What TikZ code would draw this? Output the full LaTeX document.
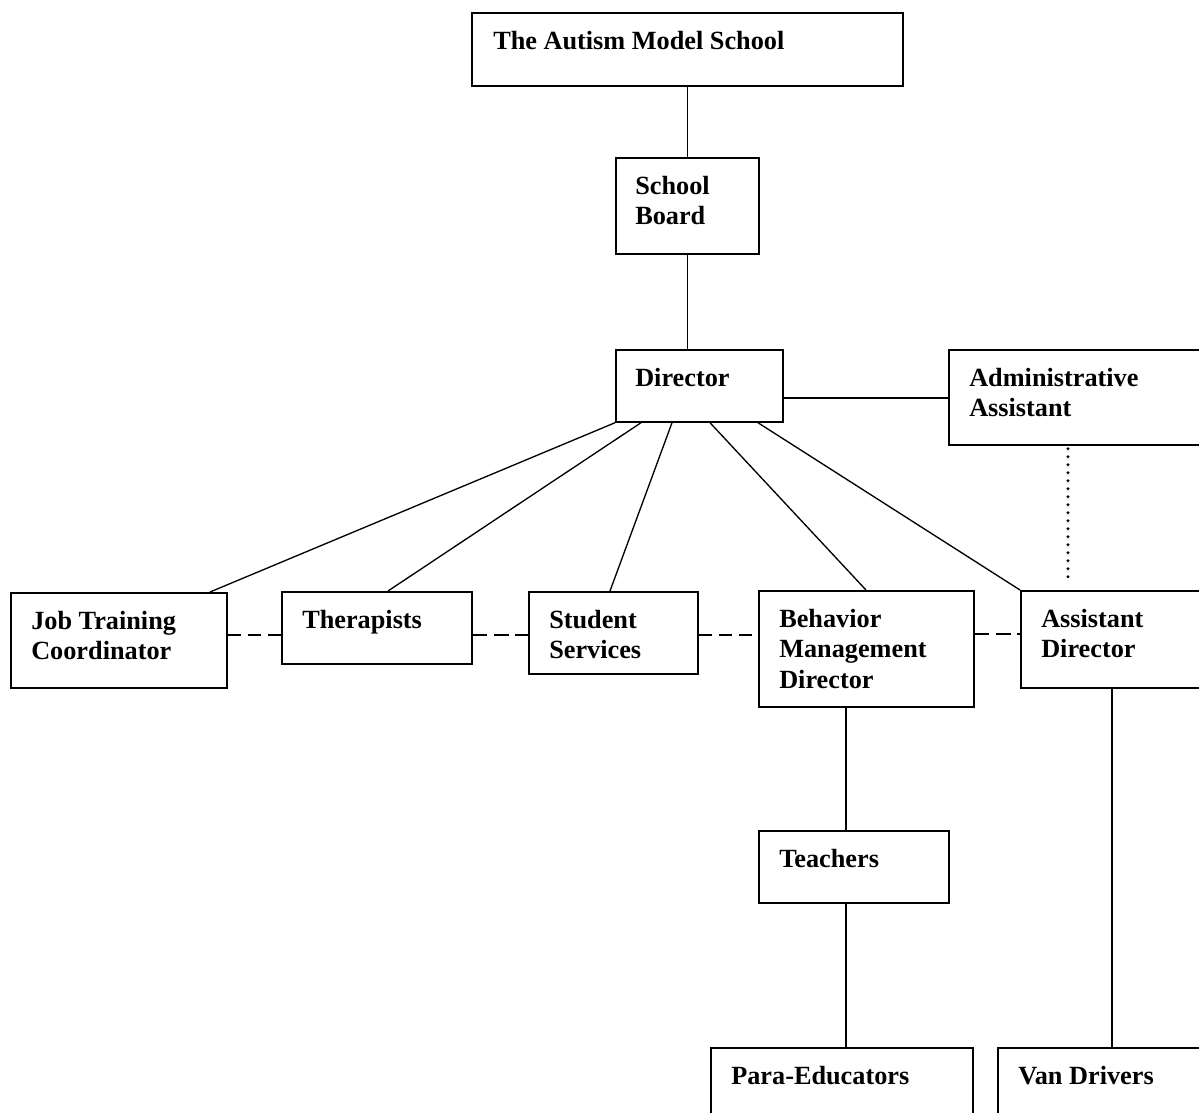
\documentclass[tikz,border=0pt]{standalone}
\usepackage{fontspec}
\setmainfont{Liberation Serif}
\begin{document}
\begin{tikzpicture}[x=0.75pt,y=-0.75pt,
  box/.style={draw, line width=1.3pt, inner sep=0pt, anchor=north west},
  lbl/.style={inner sep=0pt, anchor=north west, align=left,
    font=\fontsize{19.7}{23}\selectfont\bfseries},
  conn/.style={line width=1pt},
  thickconn/.style={line width=1.6pt},
  dashthin/.style={line width=1.2pt, dash pattern=on 11pt off 5pt},
  dashthick/.style={line width=1.8pt, dash pattern=on 10pt off 5pt},
  dotconn/.style={line width=2.4pt, line cap=round, dash pattern=on 0pt off 6pt}]
\useasboundingbox (0,0) rectangle (1199,1113);
\clip (0,0) rectangle (1199,1113);
\fill[white] (0,0) rectangle (1199,1113);
% boxes
\node[box, minimum width=431*0.75pt, minimum height=73*0.75pt] (ams) at (471,12) {};
\node[box, minimum width=143*0.75pt, minimum height=96*0.75pt] (sb) at (615,157) {};
\node[box, minimum width=167*0.75pt, minimum height=72*0.75pt] (dir) at (615,349) {};
\node[box, minimum width=270*0.75pt, minimum height=95*0.75pt] (adm) at (948,349) {};
\node[box, minimum width=216*0.75pt, minimum height=95*0.75pt] (jtc) at (10,592) {};
\node[box, minimum width=190*0.75pt, minimum height=72*0.75pt] (ther) at (281,591) {};
\node[box, minimum width=169*0.75pt, minimum height=82*0.75pt] (ss) at (528,591) {};
\node[box, minimum width=215*0.75pt, minimum height=116*0.75pt] (bmd) at (758,590) {};
\node[box, minimum width=200*0.75pt, minimum height=97*0.75pt] (ad) at (1020,590) {};
\node[box, minimum width=190*0.75pt, minimum height=72*0.75pt] (tea) at (758,830) {};
\node[box, minimum width=262*0.75pt, minimum height=100*0.75pt] (para) at (710,1047) {};
\node[box, minimum width=220*0.75pt, minimum height=100*0.75pt] (van) at (997,1047) {};
% labels
\node[lbl] (ams-t) at (493,29) {\rule{0pt}{15pt}The Autism Model School};
\node[lbl] (sb-t) at (635,174) {\rule{0pt}{15pt}School\\Board};
\node[lbl] (dir-t) at (635,366) {\rule{0pt}{15pt}Director};
\node[lbl] (adm-t) at (969,366) {\rule{0pt}{15pt}Administrative\\Assistant};
\node[lbl] (jtc-t) at (31,609) {\rule{0pt}{15pt}Job Training\\Coordinator};
\node[lbl] (ther-t) at (302,608) {\rule{0pt}{15pt}Therapists};
\node[lbl] (ss-t) at (549,608) {\rule{0pt}{15pt}Student\\Services};
\node[lbl] (bmd-t) at (779,607) {\rule{0pt}{15pt}Behavior\\Management\\Director};
\node[lbl] (ad-t) at (1041,607) {\rule{0pt}{15pt}Assistant\\Director};
\node[lbl] (tea-t) at (779,847) {\rule{0pt}{15pt}Teachers};
\node[lbl] (para-t) at (731,1064) {\rule{0pt}{15pt}Para-Educators};
\node[lbl] (van-t) at (1018,1064) {\rule{0pt}{15pt}Van Drivers};
% solid connectors
\draw[conn] (ams.south) -- (ams.south |- sb.north);
\draw[conn] (sb.south) -- (sb.south |- dir.north);
\draw[thickconn] (dir.east |- 0,398) -- (adm.west |- 0,398);
\draw[conn] (dir.south west) -- (210,0 |- jtc.north);
\draw[conn] (641,0 |- dir.south) -- (388,0 |- ther.north);
\draw[conn] (672,0 |- dir.south) -- (610,0 |- ss.north);
\draw[conn] (710,0 |- dir.south) -- (866,0 |- bmd.north);
\draw[conn] (758,0 |- dir.south) -- (ad.north west);
\draw[conn] (846,0 |- bmd.south) -- (846,0 |- tea.north);
\draw[conn] (846,0 |- tea.south) -- (846,0 |- para.north);
\draw[conn] (1112,0 |- ad.south) -- (1112,0 |- van.north);
% dotted
\draw[dotconn] (1068,0 |- adm.south) ++(0,3) -- (1068,584);
% dashed
\draw[dashthick] (jtc.east |- 0,635) -- (ther.west |- 0,635);
\draw[dashthin] (ther.east |- 0,635) -- (ss.west |- 0,635);
\draw[dashthick] (ss.east |- 0,635) -- (bmd.west |- 0,635);
\draw[dashthin] (bmd.east |- 0,634) -- (ad.west |- 0,634);
\end{tikzpicture}
\end{document}
